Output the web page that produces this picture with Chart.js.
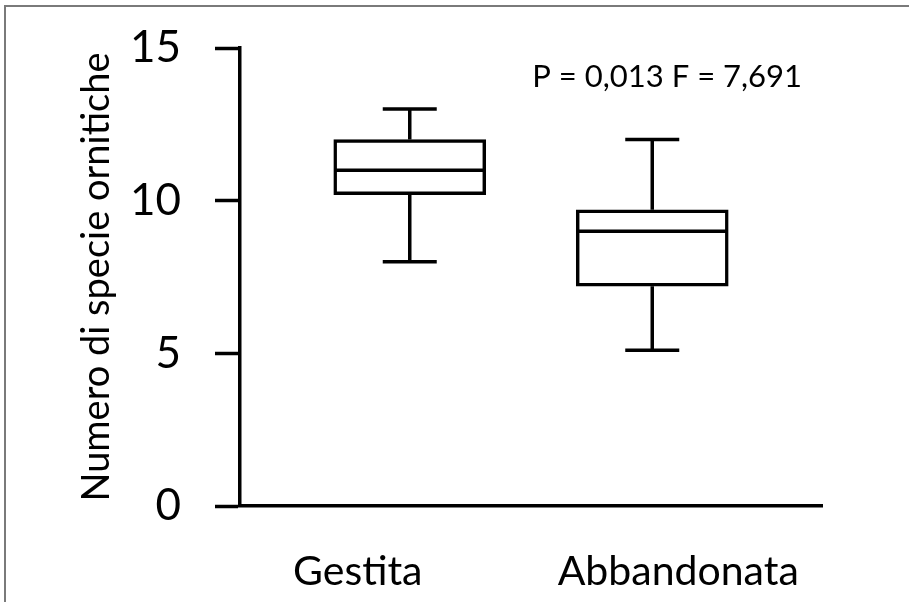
<!DOCTYPE html>
<html>
<head>
<meta charset="utf-8">
<script src="https://cdn.jsdelivr.net/npm/chart.js@4/dist/chart.umd.min.js"></script>
<style>
  body { margin: 0; background: #fff; }
  #wrap { position: relative; width: 909px; height: 602px; overflow: hidden; }
  #frame { position: absolute; left: 4px; top: 5px; right: 0; bottom: 0;
           border-top: 2px solid #7a7a7a; border-left: 2px solid #7a7a7a; pointer-events: none; }
</style>
</head>
<body>
<div id="wrap">
  <canvas id="boxChart"></canvas>
  <div id="frame"></div>
</div>
<script>
// species counts per site type
var categories = ['Gestita', 'Abbandonata'];
var whiskerLow = [8, 5.1];
var q1 = [10.2, 7.2];
var median = [11, 9];
var q3 = [12, 9.7];
var whiskerHigh = [13, 12];
var yTicks = [0, 5, 10, 15];
var statsText = 'P = 0,013 F = 7,691';

var FONT = 'Lato, "Open Sans", sans-serif';
var LINE = 3.5;

var boxData = categories.map(function (c, i) {
  return { x: i + 1, y: [q1[i], q3[i]] };
});

// whiskers, caps, medians, category names and the test result
var boxExtras = {
  id: 'boxExtras',
  afterDatasetsDraw: function (chart) {
    var ctx = chart.ctx;
    var xs = chart.scales.x, ys = chart.scales.y;
    var half = 75, cap = 27;
    ctx.save();
    ctx.strokeStyle = '#000';
    ctx.lineWidth = LINE;
    ctx.lineCap = 'butt';
    for (var i = 0; i < categories.length; i++) {
      var cx = xs.getPixelForValue(i + 1);
      var yLo = ys.getPixelForValue(whiskerLow[i]);
      var yQ1 = ys.getPixelForValue(q1[i]);
      var yMed = ys.getPixelForValue(median[i]);
      var yQ3 = ys.getPixelForValue(q3[i]);
      var yHi = ys.getPixelForValue(whiskerHigh[i]);
      ctx.beginPath();
      ctx.moveTo(cx, yQ3); ctx.lineTo(cx, yHi);
      ctx.moveTo(cx - cap, yHi); ctx.lineTo(cx + cap, yHi);
      ctx.moveTo(cx, yQ1); ctx.lineTo(cx, yLo);
      ctx.moveTo(cx - cap, yLo); ctx.lineTo(cx + cap, yLo);
      ctx.moveTo(cx - half, yMed); ctx.lineTo(cx + half, yMed);
      ctx.stroke();
    }
    ctx.restore();
  },
  afterDraw: function (chart) {
    var ctx = chart.ctx;
    var xs = chart.scales.x;
    var area = chart.chartArea;
    var shift = [-52, 26];
    ctx.save();
    ctx.fillStyle = '#000';
    ctx.textBaseline = 'alphabetic';
    ctx.textAlign = 'center';
    ctx.font = '41px ' + FONT;
    categories.forEach(function (c, i) {
      ctx.fillText(c, xs.getPixelForValue(i + 1) + shift[i], 585);
    });
    ctx.textAlign = 'right';
    ctx.font = '31px ' + FONT;
    ctx.fillText(statsText, area.right - 20, 87);
    ctx.restore();
  }
};

new Chart(document.getElementById('boxChart').getContext('2d'), {
  type: 'bar',
  data: {
    datasets: [{
      data: boxData,
      backgroundColor: '#fff',
      borderColor: '#000',
      borderWidth: LINE,
      borderSkipped: false,
      barThickness: 152
    }]
  },
  options: {
    responsive: true,
    maintainAspectRatio: false,
    animation: false,
    layout: { padding: { left: 74, top: 48, right: 87, bottom: 0 } },
    plugins: { legend: { display: false }, tooltip: { enabled: false } },
    scales: {
      x: {
        type: 'linear',
        offset: false,
        min: 0.3,
        max: 2.7,
        ticks: { display: false },
        grid: { display: false },
        border: { display: true, color: '#000', width: LINE },
        afterFit: function (s) { s.height = 96; }
      },
      y: {
        min: 0,
        max: 15,
        afterBuildTicks: function (s) { s.ticks = yTicks.map(function (v) { return { value: v }; }); },
        ticks: { color: '#000', font: { family: FONT, size: 44 }, padding: 34 },
        grid: { display: true, drawOnChartArea: false, drawTicks: true, tickLength: 25,
                tickWidth: LINE, tickColor: '#000' },
        border: { display: true, color: '#000', width: LINE },
        title: { display: true, text: 'Numero di specie ornitiche', color: '#000',
                 font: { family: FONT, size: 38 }, padding: 0 },
        afterFit: function (s) {
          s.width = 240 - 74;
          s.paddingTop = 0;
          s.paddingBottom = 0;
        }
      }
    }
  },
  plugins: [boxExtras]
});
</script>
</body>
</html>
